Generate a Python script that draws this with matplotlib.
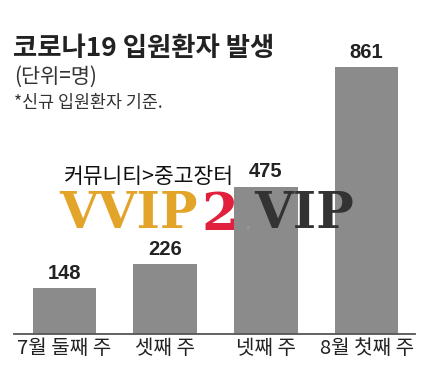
import matplotlib.pyplot as plt

# data
weeks = ["7월 둘째 주", "셋째 주", "넷째 주", "8월 첫째 주"]
patients = [148, 226, 475, 861]

W, H = 430, 387
KR = ["Noto Sans CJK KR", "DejaVu Sans"]

fig = plt.figure(figsize=(W / 100, H / 100), dpi=100)

# axes placed in pixel coordinates of the reference
left, right, bottom, top = 14, 415, 334, 20
ax = fig.add_axes([left / W, 1 - bottom / H, (right - left) / W, (bottom - top) / H])
x = range(len(weeks))
ax.bar(x, patients, width=0.63, color="#8b8b8b", zorder=2)
ax.set_xlim(-0.5, 3.48)
ax.set_ylim(0, 1012)

for s in ["top", "right", "left"]:
    ax.spines[s].set_visible(False)
ax.spines["bottom"].set_color("#555555")
ax.spines["bottom"].set_linewidth(1.3)
ax.set_yticks([])
ax.set_xticks(list(x))
ax.set_xticklabels(weeks, family=KR, fontsize=14.5, color="#222222")
ax.tick_params(axis="x", length=0, pad=3)

for i, v in enumerate(patients):
    ax.text(i, v + 17, str(v), ha="center", va="bottom", fontsize=14.5,
            family="Liberation Sans", fontweight="bold", color="#222222")

# title block
fig.text(13 / W, 1 - 48 / H, "코로나19 입원환자 발생", family=KR, fontsize=19,
         fontweight="bold", color="#222222", va="center", ha="left")
fig.text(14 / W, 1 - 77 / H, "(단위=명)", family=KR, fontsize=15,
         color="#333333", va="center", ha="left")
fig.text(14 / W, 1 - 103 / H, "*신규 입원환자 기준.", family=KR, fontsize=12.5,
         color="#333333", va="center", ha="left")

# watermark overlay
fig.text(64 / W, 1 - 177 / H, "커뮤니티>중고장터", family=KR, fontsize=15.5,
         fontweight="medium", color="#111111", va="center", ha="left", zorder=5)
fig.text(59 / W, 1 - 215 / H, "VVIP", family="DejaVu Serif", fontsize=36,
         fontweight="bold", color="#e3a42a", va="center", ha="left", zorder=5)
fig.text(220 / W, 1 - 215 / H, "2", family="DejaVu Serif", fontsize=38,
         fontweight="bold", color="#e0203c", va="center", ha="center", zorder=5)
fig.text(248 / W, 1 - 228 / H, "•", family="DejaVu Sans", fontsize=8,
         color="#9a9a9a", va="center", ha="center", zorder=5)
fig.text(254 / W, 1 - 215 / H, "VIP", family="DejaVu Serif", fontsize=36,
         fontweight="bold", color="#333333", va="center", ha="left", zorder=5)

fig.savefig("out.png", dpi=100)
